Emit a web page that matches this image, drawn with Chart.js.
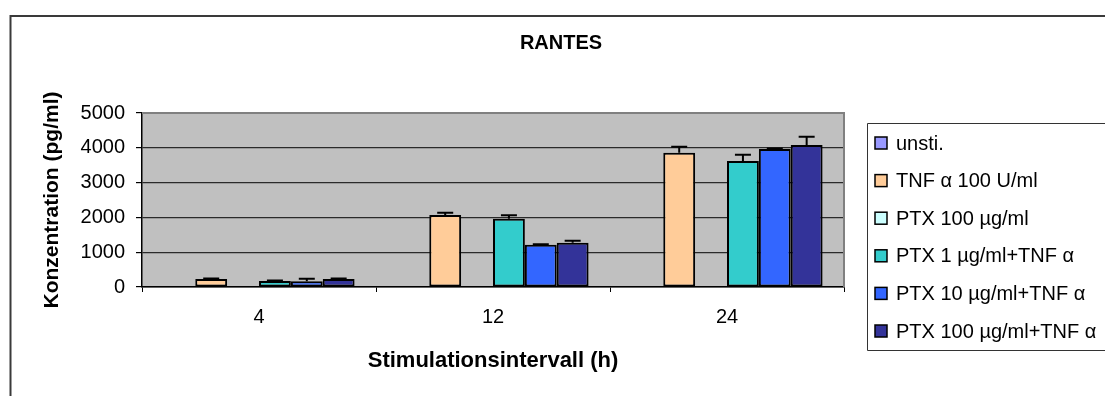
<!DOCTYPE html>
<html>
<head>
<meta charset="utf-8">
<script src="https://cdn.jsdelivr.net/npm/chart.js@4"></script>
<style>
  body { margin: 0; background: #fff; }
  canvas { display: block; }
</style>
</head>
<body>
<canvas id="rantes-chart" width="1105" height="396"></canvas>
<script>
// values
const chartTitle = 'RANTES';
const categories = ['4', '12', '24'];
const seriesNames = ['unsti.', 'TNF α 100 U/ml', 'PTX 100 µg/ml', 'PTX 1 µg/ml+TNF α', 'PTX 10 µg/ml+TNF α', 'PTX 100 µg/ml+TNF α'];
const seriesColors = ['#9999FF', '#FFCC99', '#CCFFFF', '#33CCCC', '#3366FF', '#333399'];

const unsti = [null, null, null];
const tnf100 = [231, 2067, 3855];
const ptx100 = [null, null, null];
const ptx1Tnf = [173, 1961, 3624];
const ptx10Tnf = [164, 1211, 3962];
const ptx100Tnf = [231, 1269, 4077];

// upper error bars
const unstiErr = [0, 0, 0];
const tnf100Err = [10, 67, 173];
const ptx100Err = [0, 0, 0];
const ptx1TnfErr = [17, 100, 173];
const ptx10TnfErr = [72, 15, 15];
const ptx100TnfErr = [15, 57, 240];

const yTicks = [0, 1000, 2000, 3000, 4000, 5000];

const allValues = [unsti, tnf100, ptx100, ptx1Tnf, ptx10Tnf, ptx100Tnf];
const allErrors = [unstiErr, tnf100Err, ptx100Err, ptx1TnfErr, ptx10TnfErr, ptx100TnfErr];

const FONT = '"Liberation Sans", Arial, sans-serif';

const datasets = seriesNames.map(function(name, i) {
    return {
        label: name,
        data: allValues[i],
        errors: allErrors[i],
        backgroundColor: seriesColors[i],
        borderColor: '#000',
        borderWidth: 2,
        borderSkipped: false,
        categoryPercentage: 0.817,
        barPercentage: 1.0
    };
});

// frame, grey plot area, border lines
const backgroundPlugin = {
    id: 'plotBackground',
    beforeDraw: function(chart) {
        const ctx = chart.ctx;
        const a = chart.chartArea;
        ctx.save();
        ctx.fillStyle = '#fff';
        ctx.fillRect(0, 0, chart.width, chart.height);
        ctx.strokeStyle = '#3a3a3a';
        ctx.lineWidth = 2;
        ctx.beginPath();
        ctx.moveTo(10.5, chart.height);
        ctx.lineTo(10.5, 16);
        ctx.lineTo(chart.width, 16);
        ctx.stroke();
        ctx.fillStyle = '#C0C0C0';
        ctx.fillRect(a.left, a.top, a.right - a.left, a.bottom - a.top);
        ctx.restore();
    },
    afterDatasetsDraw: function(chart) {
        const ctx = chart.ctx;
        const a = chart.chartArea;
        ctx.save();
        ctx.strokeStyle = '#808080';
        ctx.lineWidth = 2;
        ctx.beginPath();
        ctx.moveTo(a.left, a.top);
        ctx.lineTo(a.right, a.top);
        ctx.lineTo(a.right, a.bottom);
        ctx.stroke();
        ctx.restore();
    }
};

// plus-only error bars like the spreadsheet chart
const errorBarPlugin = {
    id: 'errorBars',
    afterDatasetsDraw: function(chart) {
        const ctx = chart.ctx;
        const yScale = chart.scales.y;
        ctx.save();
        ctx.strokeStyle = '#000';
        ctx.lineWidth = 2;
        chart.data.datasets.forEach(function(ds, i) {
            const meta = chart.getDatasetMeta(i);
            meta.data.forEach(function(bar, j) {
                const v = ds.data[j];
                if (v === null || v === undefined) return;
                const top = yScale.getPixelForValue(v + ds.errors[j]);
                ctx.beginPath();
                ctx.moveTo(bar.x, bar.y);
                ctx.lineTo(bar.x, top);
                ctx.moveTo(bar.x - 8, top);
                ctx.lineTo(bar.x + 8, top);
                ctx.stroke();
            });
        });
        ctx.restore();
    }
};

// title and boxed legend on the right
const boxLegendPlugin = {
    id: 'boxLegend',
    afterDraw: function(chart) {
        const ctx = chart.ctx;
        const left = 867.5, top = 123.5, bottom = 350.5;
        ctx.save();
        ctx.fillStyle = '#000';
        ctx.font = 'bold 20px ' + FONT;
        ctx.textAlign = 'center';
        ctx.textBaseline = 'middle';
        ctx.fillText(chartTitle, 561, 43);

        ctx.strokeStyle = '#333';
        ctx.lineWidth = 1;
        ctx.beginPath();
        ctx.moveTo(chart.width + 1, top);
        ctx.lineTo(left, top);
        ctx.lineTo(left, bottom);
        ctx.lineTo(chart.width + 1, bottom);
        ctx.stroke();
        ctx.font = '20px ' + FONT;
        ctx.textAlign = 'left';
        chart.data.datasets.forEach(function(ds, i) {
            const y = 143 + i * 37.6;
            ctx.fillStyle = ds.backgroundColor;
            ctx.fillRect(875, y - 6, 12, 12);
            ctx.strokeStyle = '#000';
            ctx.lineWidth = 1.5;
            ctx.strokeRect(875, y - 6, 12, 12);
            ctx.fillStyle = '#000';
            ctx.fillText(ds.label, 896, y + 1);
        });
        ctx.restore();
    }
};

const ctx = document.getElementById('rantes-chart').getContext('2d');
new Chart(ctx, {
    type: 'bar',
    data: {
        labels: categories,
        datasets: datasets
    },
    options: {
        responsive: false,
        animation: false,
        layout: {
            padding: { left: 30, right: 261, top: 113, bottom: 0 }
        },
        plugins: {
            legend: { display: false },
            tooltip: { enabled: false },
            title: { display: false }
        },
        scales: {
            x: {
                afterFit: function(scale) { scale.height = 396 - 287; },
                border: { display: true, color: '#000', width: 1.5 },
                grid: {
                    offset: true,
                    drawOnChartArea: false,
                    drawTicks: true,
                    tickLength: 5,
                    color: '#000'
                },
                ticks: {
                    color: '#000',
                    padding: 13,
                    font: { family: FONT, size: 20 }
                },
                title: {
                    display: true,
                    text: 'Stimulationsintervall (h)',
                    color: '#000',
                    font: { family: FONT, size: 22, weight: 'bold' },
                    padding: { top: 0, bottom: 22 }
                }
            },
            y: {
                min: 0,
                max: 5000,
                afterFit: function(scale) { scale.width = 142 - 30; },
                afterBuildTicks: function(scale) {
                    scale.ticks = yTicks.map(function(v) { return { value: v }; });
                },
                border: { display: true, color: '#000', width: 1.5 },
                grid: {
                    color: function(c) { return c.tick && c.tick.value === 5000 ? 'rgba(0,0,0,0)' : '#2a2a2a'; },
                    tickColor: '#000',
                    tickLength: 6,
                    lineWidth: 1.2
                },
                ticks: {
                    color: '#000',
                    padding: 11,
                    font: { family: FONT, size: 20 },
                    callback: function(value) { return String(value); }
                },
                title: {
                    display: true,
                    text: 'Konzentration (pg/ml)',
                    color: '#000',
                    font: { family: FONT, size: 21, weight: 'bold' },
                    padding: { top: 10, bottom: 0 }
                }
            }
        }
    },
    plugins: [backgroundPlugin, errorBarPlugin, boxLegendPlugin]
});
</script>
</body>
</html>
